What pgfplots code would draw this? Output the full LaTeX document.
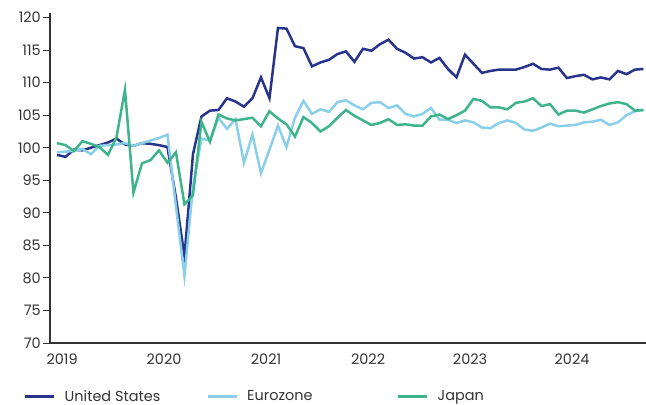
\documentclass[border=0pt]{standalone}
\usepackage{fontspec}
\setmainfont{Poppins}
\usepackage{pgfplots}
\pgfplotsset{compat=1.18}
\usepackage{pgfplotstable}
\definecolor{usc}{HTML}{27348B}
\definecolor{ezc}{HTML}{89CFEA}
\definecolor{jpc}{HTML}{3DB48A}
\definecolor{axc}{HTML}{333333}

\pgfplotstableread{
i us ez jp
0 98.9 99.3 100.7
1 98.6 99.4 100.4
2 99.7 99.5 99.5
3 99.6 99.8 101.0
4 100.0 99.0 100.6
5 100.4 100.3 100.1
6 100.8 100.4 98.9
7 101.4 100.5 101.6
8 100.5 100.7 108.9
9 100.3 100.3 93.1
10 100.7 100.7 97.6
11 100.6 101.1 98.1
12 100.4 101.5 99.6
13 100.1 102.0 97.7
14 92.3 91.0 99.3
15 83.3 80.3 91.3
16 99.0 94.0 92.7
17 104.8 101.4 104.0
18 105.7 101.1 100.9
19 105.8 104.6 105.1
20 107.6 102.9 104.5
21 107.1 104.4 104.2
22 106.3 97.7 104.4
23 107.6 102.0 104.6
24 110.8 96.1 103.3
25 107.6 99.7 105.6
26 118.4 103.4 104.5
27 118.3 100.1 103.6
28 115.6 104.6 101.7
29 115.3 107.2 104.7
30 112.5 105.2 103.8
31 113.1 105.9 102.5
32 113.5 105.5 103.3
33 114.4 107.0 104.6
34 114.8 107.3 105.8
35 113.2 106.5 104.9
36 115.2 105.9 104.2
37 114.9 106.9 103.5
38 115.9 107.0 103.8
39 116.6 106.1 104.4
40 115.2 106.5 103.5
41 114.6 105.2 103.6
42 113.7 104.8 103.4
43 113.9 105.2 103.4
44 113.1 106.1 104.8
45 113.8 104.3 105.1
46 112.1 104.3 104.4
47 110.8 103.8 105.0
48 114.3 104.2 105.7
49 112.9 103.9 107.5
50 111.5 103.1 107.2
51 111.8 103.0 106.2
52 112.0 103.8 106.2
53 112.0 104.2 105.9
54 112.0 103.8 106.9
55 112.4 102.8 107.1
56 112.9 102.6 107.6
57 112.1 103.1 106.4
58 112.0 103.7 106.7
59 112.3 103.3 105.1
60 110.7 103.4 105.7
61 111.0 103.5 105.7
62 111.2 103.9 105.4
63 110.5 104.0 105.9
64 110.8 104.3 106.4
65 110.5 103.5 106.8
66 111.8 103.9 107.0
67 111.3 105.0 106.7
68 112.0 105.6 105.7
69 112.1 105.8 105.8
}\datatable

\begin{document}
\begin{tikzpicture}
\begin{axis}[
  at={(0,0)}, anchor=south west,
  scale only axis,
  width=596bp, height=330bp,
  xmin=-0.82, xmax=69.3,
  ymin=70, ymax=120.7,
  axis lines=left,
  axis line style={axc, line width=1.1bp, -},
  ytick={70,75,...,120},
  xtick={0.6,12.6,24.6,36.6,48.6,60.6},
  xticklabels={2019,2020,2021,2022,2023,2024},
  x tick style={draw=none},
  y tick style={axc, line width=1bp},
  tick align=outside,
  major tick length=7bp,
  font=\fontsize{14.5}{17}\selectfont,
  /pgf/number format/assume math mode=true,
  yticklabel style={inner xsep=2bp, text=axc},
  xticklabel style={inner ysep=4bp, text=axc},
  legend columns=3,
  legend cell align=left,
  legend image code/.code={\draw[#1] (0bp,0bp) -- (29bp,0bp);},
  legend style={at={(axis description cs:-0.0436,-0.1626)}, anchor=west,
    draw=none, fill=none, inner sep=0pt, column sep=0pt,
    nodes={inner sep=0pt, text=axc}},
]
\addplot[usc, line width=2.5bp] table[x=i, y=us] {\datatable};
\addlegendentry{\hspace*{9bp}\makebox[142bp][l]{United States}}
\addplot[ezc, line width=2.5bp] table[x=i, y=ez] {\datatable};
\addlegendentry{\hspace*{9bp}\makebox[150bp][l]{Eurozone}}
\addplot[jpc, line width=2.5bp] table[x=i, y=jp] {\datatable};
\addlegendentry{\hspace*{9bp}Japan}
\end{axis}
\pgfresetboundingbox
\path[use as bounding box] (-50bp,-62bp) rectangle (596bp,343bp);
\end{tikzpicture}
\end{document}
